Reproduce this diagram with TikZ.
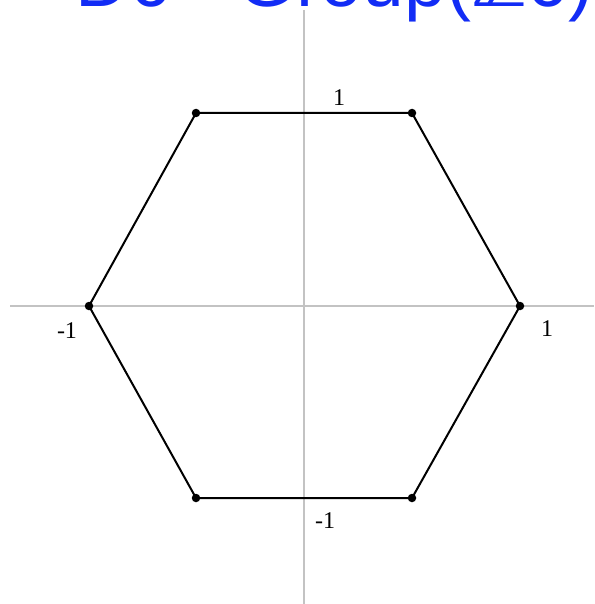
\documentclass[tikz,border=0pt]{standalone}
\usepackage{fontspec}
\setmainfont{Liberation Serif}
\newfontfamily\titlefont{Liberation Sans}
\newfontfamily\symfont{DejaVu Sans}
\definecolor{titleblue}{RGB}{18,44,245}
\definecolor{axisgray}{RGB}{195,195,195}
\begin{document}
\begin{tikzpicture}[x=1pt,y=-1pt,
    axisline/.style={draw=axisgray, line width=2.2pt},
    hexedge/.style={draw=black, line width=2pt},
    vdot/.style={circle, fill=black, inner sep=0pt, minimum size=8.5pt},
    ticklabel/.style={font=\fontsize{24}{26}\selectfont, inner sep=0pt}]
  \useasboundingbox (0,0) rectangle (594,604);
  \clip (0,0) rectangle (594,604);

  % Title, cut off by the top edge
  \node[anchor=base west, inner sep=0pt, text=titleblue,
        font=\titlefont\fontsize{75}{80}\selectfont] (title) at (75,7)
        {D6 - Group({\symfont ℤ}6)};

  % Axes
  \coordinate (ytop) at (304,10);
  \coordinate (ybot) at (304,604);
  \coordinate (xleft) at (10,306);
  \coordinate (xright) at (594,306);
  \draw[axisline] (ytop) -- (ybot);
  \draw[axisline] (xleft) -- (xright);

  % Hexagon corners
  \coordinate (vR)  at (520,306);
  \coordinate (vTR) at (412,113);
  \coordinate (vTL) at (196,113);
  \coordinate (vL)  at (89,306);
  \coordinate (vBL) at (196,498);
  \coordinate (vBR) at (412,498);
  \draw[hexedge] (vR) -- (vTR) -- (vTL) -- (vL) -- (vBL) -- (vBR) -- cycle;
  \foreach \v in {vR,vTR,vTL,vL,vBL,vBR}
    \node[vdot] (dot\v) at (\v) {};

  % Labels
  \node[ticklabel] (labTop)   at (339,98)  {1};
  \node[ticklabel] (labLeft)  at (67,331)  {-1};
  \node[ticklabel] (labRight) at (547,329) {1};
  \node[ticklabel] (labBot)   at (325,521) {-1};
\end{tikzpicture}
\end{document}
